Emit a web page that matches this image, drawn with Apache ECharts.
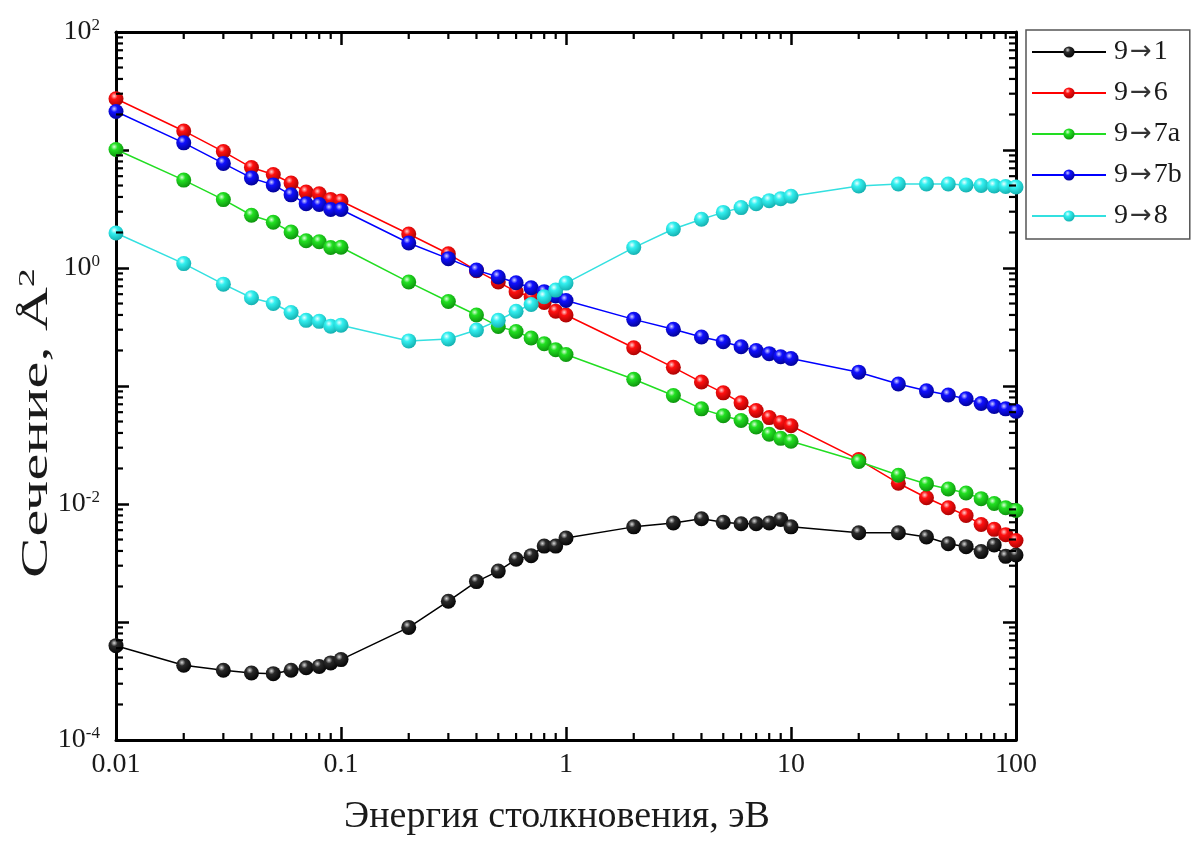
<!DOCTYPE html>
<html>
<head>
<meta charset="utf-8">
<script src="https://cdn.jsdelivr.net/npm/echarts@6/dist/echarts.min.js"></script>
<style>
html,body{margin:0;padding:0;background:#fff;}
#chart{width:1196px;height:841px;}
</style>
</head>
<body>
<div id="chart"></div>
<script>
// ---- data ----
const energy = [0.01,0.02,0.03,0.04,0.05,0.06,0.07,0.08,0.09,0.1,
                0.2,0.3,0.4,0.5,0.6,0.7,0.8,0.9,1,
                2,3,4,5,6,7,8,9,10,
                20,30,40,50,60,70,80,90,100];

const s9to1 = [6.3e-4,4.3e-4,3.9e-4,3.7e-4,3.65e-4,3.9e-4,4.1e-4,4.2e-4,4.5e-4,4.8e-4,
               9.0e-4,1.5e-3,2.2e-3,2.7e-3,3.4e-3,3.65e-3,4.4e-3,4.4e-3,5.15e-3,
               6.4e-3,6.9e-3,7.5e-3,7.0e-3,6.8e-3,6.8e-3,6.9e-3,7.4e-3,6.4e-3,
               5.7e-3,5.7e-3,5.25e-3,4.6e-3,4.35e-3,3.95e-3,4.5e-3,3.6e-3,3.7e-3];

const s9to6 = [27.2,14.5,9.7,7.1,6.2,5.25,4.4,4.25,3.8,3.7,
               1.94,1.32,0.95,0.76,0.63,0.57,0.51,0.43,0.40,
               0.211,0.144,0.108,0.0875,0.072,0.062,0.054,0.049,0.046,
               0.0238,0.015,0.0113,0.0093,0.008,0.0067,0.0061,0.0055,0.0049];

const s9to7a = [10.1,5.56,3.8,2.8,2.44,2.02,1.7,1.67,1.49,1.5,
                0.76,0.52,0.4,0.32,0.29,0.255,0.228,0.203,0.185,
                0.114,0.083,0.064,0.056,0.051,0.045,0.039,0.036,0.034,
                0.0229,0.0175,0.0148,0.0134,0.0124,0.0111,0.0101,0.0093,0.0088];

const s9to7b = [21.2,11.5,7.7,5.8,5.06,4.17,3.5,3.45,3.13,3.13,
                1.63,1.2,0.96,0.84,0.75,0.68,0.63,0.58,0.53,
                0.367,0.303,0.26,0.237,0.215,0.2,0.188,0.177,0.171,
                0.131,0.104,0.091,0.084,0.078,0.071,0.067,0.064,0.061];

const s9to8 = [1.98,1.09,0.73,0.56,0.5,0.42,0.36,0.353,0.321,0.327,
               0.241,0.25,0.298,0.36,0.43,0.49,0.57,0.65,0.745,
               1.49,2.14,2.59,2.96,3.25,3.51,3.72,3.86,4.05,
               4.95,5.15,5.15,5.15,5.05,5.0,4.95,4.9,4.86];

const seriesNames = ['9\u21921','9\u21926','9\u21927a','9\u21927b','9\u21928'];
const seriesValues = [s9to1, s9to6, s9to7a, s9to7b, s9to8];

const xTickLabels = ['0.01','0.1','1','10','100'];
const xMin = 0.01, xMax = 100, yMin = 1e-4, yMax = 100;

// minor tick values of the log axes (decoration only)
const xMinorTicks = [0.02,0.03,0.04,0.05,0.06,0.07,0.08,0.09,
                     0.2,0.3,0.4,0.5,0.6,0.7,0.8,0.9,
                     2,3,4,5,6,7,8,9,
                     20,30,40,50,60,70,80,90];
const yMinorMult = [2,3,4,5,6,7,8,9];
const yDecades = [1e-4,1e-3,1e-2,1e-1,1,10];

// ---- styles ----
const FONT = '"Liberation Serif", "Times New Roman", serif';
const palette = [
  {line:'#000000', base:'#2a2a2a', dark:'#000000', hi:'#d8d8d8'},
  {line:'#ff0000', base:'#ff1010', dark:'#a00000', hi:'#ffd0d0'},
  {line:'#22dd22', base:'#22e022', dark:'#0a8a0a', hi:'#d8ffd8'},
  {line:'#0000ff', base:'#1010ff', dark:'#00008a', hi:'#d0d0ff'},
  {line:'#33e0e0', base:'#33f0f0', dark:'#10a8a8', hi:'#eaffff'}
];
function ball(p){
  return {type:'radial', x:0.38, y:0.32, r:0.75,
    colorStops:[{offset:0,color:p.hi},{offset:0.3,color:p.base},{offset:1,color:p.dark}]};
}

const yMinorTicks = [];
yDecades.forEach(d => yMinorMult.forEach(m => yMinorTicks.push(+(d*m).toPrecision(3))));

const MINOR = 7;
const chart = echarts.init(document.getElementById('chart'), null, {renderer:'canvas'});

const dataSeries = seriesNames.map((name, i) => ({
  name: name,
  type: 'line',
  xAxisIndex: 0, yAxisIndex: 0,
  data: energy.map((x, k) => [x, seriesValues[i][k]]),
  symbol: 'circle',
  symbolSize: 15,
  showSymbol: true,
  lineStyle: {color: palette[i].line, width: 1.5},
  itemStyle: {color: ball(palette[i]), borderWidth: 0},
  emphasis: {disabled: true},
  animation: false,
  z: 3 + i
}));

const tickStyle = {stroke:'#000', lineWidth: 2.2};

const xMinorSeries = {
  type: 'custom',
  xAxisIndex: 0, yAxisIndex: 0,
  silent: true, clip: false, animation: false, z: 20,
  data: xMinorTicks.map(v => [v, 1]),
  renderItem: function(params, api){
    const v = api.value(0);
    const b = api.coord([v, yMin]);
    const t = api.coord([v, yMax]);
    return {type:'group', children:[
      {type:'line', shape:{x1:b[0], y1:b[1], x2:b[0], y2:b[1]-MINOR}, style:tickStyle},
      {type:'line', shape:{x1:t[0], y1:t[1], x2:t[0], y2:t[1]+MINOR}, style:tickStyle}
    ]};
  }
};
const yMinorSeries = {
  type: 'custom',
  xAxisIndex: 0, yAxisIndex: 0,
  silent: true, clip: false, animation: false, z: 20,
  data: yMinorTicks.map(v => [1, v]),
  renderItem: function(params, api){
    const v = api.value(1);
    const l = api.coord([xMin, v]);
    const r = api.coord([xMax, v]);
    return {type:'group', children:[
      {type:'line', shape:{x1:l[0], y1:l[1], x2:l[0]+MINOR, y2:l[1]}, style:tickStyle},
      {type:'line', shape:{x1:r[0], y1:r[1], x2:r[0]-MINOR, y2:r[1]}, style:tickStyle}
    ]};
  }
};

const axisLineStyle = {lineStyle:{color:'#000', width:3}};
const majorTick = {show:true, inside:true, length:13, lineStyle:{color:'#000', width:2.5}};
const TXT = '#1a1a1a';

const option = {
  backgroundColor: '#ffffff',
  animation: false,
  grid: {left:116, right:180, top:32, bottom:87, containLabel:false},
  legend: {
    data: seriesNames,
    orient: 'vertical',
    left: 1026, top: 30,
    padding: [8, 8, 9, 5],
    itemWidth: 74, itemHeight: 14,
    itemGap: 13,
    backgroundColor: '#fff',
    borderColor: '#555',
    borderWidth: 1.5,
    borderRadius: 0,
    selectedMode: false,
    formatter: function(name){
      const parts = name.split('\u2192');
      return '{t|' + parts[0] + '}{a|\u2192}{t|' + parts[1] + '}';
    },
    textStyle: {
      fontFamily: FONT, fontSize: 28, color: TXT, lineHeight: 28, padding:[0,0,0,3],
      rich: {
        t: {fontFamily: FONT, fontSize: 28, color: TXT, lineHeight: 28},
        a: {fontFamily: '"DejaVu Sans", sans-serif', fontSize: 26, color: '#333', lineHeight: 28, padding:[0,2,0,2]}
      }
    }
  },
  xAxis: [
    {
      type: 'log', logBase: 10, min: xMin, max: xMax, splitNumber: 4,
      position: 'bottom',
      axisLine: axisLineStyle,
      axisTick: majorTick,
      splitLine: {show:false},
      axisLabel: {
        fontFamily: FONT, fontSize: 28, color: TXT, margin: 11,
        formatter: function(v){
          const e = Math.round(Math.log10(v));
          return xTickLabels[e + 2] || '';
        }
      },
      name: 'Энергия столкновения, эВ',
      nameLocation: 'middle', nameGap: 58,
      nameTextStyle: {fontFamily: FONT, fontSize: 38, color: TXT, padding:[0,18,0,0]}
    },
    {
      type: 'log', logBase: 10, min: xMin, max: xMax, splitNumber: 4,
      position: 'top',
      axisLine: axisLineStyle,
      axisTick: majorTick,
      axisLabel: {show:false},
      splitLine: {show:false}
    }
  ],
  yAxis: [
    {
      type: 'log', logBase: 10, min: yMin, max: yMax, splitNumber: 6,
      position: 'left',
      axisLine: axisLineStyle,
      axisTick: majorTick,
      splitLine: {show:false},
      axisLabel: {
        margin: 16,
        formatter: function(v){
          const e = Math.round(Math.log10(v));
          if (e % 2 !== 0) return '';
          return '{b|10}{s|' + e + '}';
        },
        rich: {
          b: {fontFamily: FONT, fontSize: 28, color: TXT, lineHeight: 30},
          s: {fontFamily: FONT, fontSize: 17, color: TXT, verticalAlign: 'top', lineHeight: 18, padding:[0,0,12,0]}
        }
      }
    },
    {
      type: 'log', logBase: 10, min: yMin, max: yMax, splitNumber: 6,
      position: 'right',
      axisLine: axisLineStyle,
      axisTick: majorTick,
      axisLabel: {show:false},
      splitLine: {show:false}
    }
  ],
  graphic: [
    {
      type: 'text',
      left: 16, top: 268,
      rotation: Math.PI / 2,
      scaleX: 1.6,
      style: {
        text: '{t|Сечение, Å}{s|2}',
        rich: {
          t: {fontFamily: FONT, fontSize: 38, fill: TXT},
          s: {fontFamily: FONT, fontSize: 24, fill: TXT, padding:[0,0,18,0]}
        }
      }
    }
  ],
  series: dataSeries.concat([xMinorSeries, yMinorSeries])
};
chart.setOption(option);
</script>
</body>
</html>
